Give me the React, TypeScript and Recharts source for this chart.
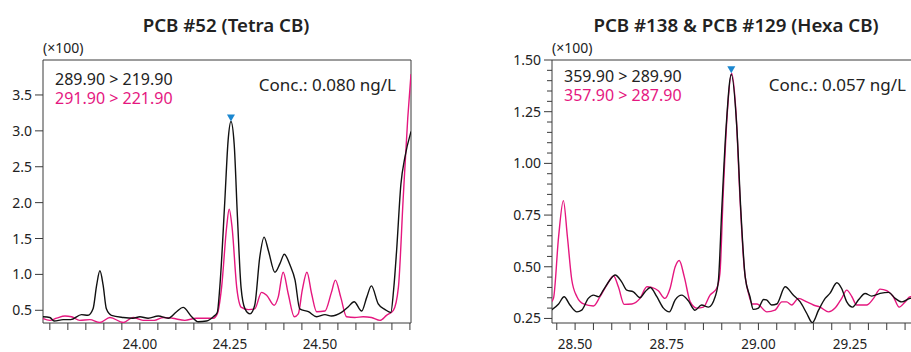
import React from "react";
import { LineChart, Line, XAxis, YAxis, ReferenceArea, ReferenceDot } from "recharts";

const FONT = '"Noto Sans", "Open Sans", sans-serif';
const INK = "#222";
const FRAME = "#3a3a3a";
const PINK = "#e5177f";
const BLUE = "#1b87d0";

type Pt = [number, number];

// PCB #52 (Tetra CB): 289.90 > 219.90
const tetraQuant: Pt[] = [
  [23.729, 0.41], [23.75, 0.4], [23.762, 0.35], [23.787, 0.37], [23.808, 0.37], [23.838, 0.44],
  [23.856, 0.43], [23.87, 0.52], [23.88, 0.85], [23.889, 1.05], [23.898, 0.85], [23.907, 0.52],
  [23.921, 0.43], [23.954, 0.4], [23.981, 0.39], [24.0, 0.41], [24.023, 0.39], [24.051, 0.42],
  [24.079, 0.39], [24.102, 0.48], [24.12, 0.54], [24.144, 0.41], [24.162, 0.34], [24.185, 0.35],
  [24.204, 0.41], [24.215, 0.47], [24.222, 0.82], [24.236, 2.03], [24.245, 2.86], [24.253, 3.13],
  [24.262, 2.81], [24.271, 1.8], [24.281, 0.82], [24.292, 0.52], [24.306, 0.45], [24.319, 0.57],
  [24.333, 1.24], [24.345, 1.52], [24.357, 1.33], [24.375, 1.03], [24.389, 1.15], [24.401, 1.28],
  [24.417, 1.13], [24.431, 0.92], [24.444, 0.52], [24.468, 0.48], [24.491, 0.41], [24.514, 0.44],
  [24.532, 0.42], [24.56, 0.47], [24.579, 0.55], [24.595, 0.62], [24.616, 0.49], [24.63, 0.68],
  [24.643, 0.84], [24.662, 0.59], [24.681, 0.51], [24.697, 0.47], [24.705, 0.8], [24.713, 1.33],
  [24.725, 2.26], [24.736, 2.63], [24.753, 2.99],
];
// 291.90 > 221.90
const tetraQual: Pt[] = [
  [23.729, 0.39], [23.75, 0.36], [23.769, 0.39], [23.792, 0.42], [23.81, 0.41], [23.833, 0.36],
  [23.861, 0.37], [23.889, 0.33], [23.917, 0.4], [23.954, 0.33], [23.981, 0.4], [24.009, 0.36],
  [24.04, 0.36], [24.065, 0.4], [24.09, 0.39], [24.125, 0.36], [24.157, 0.39], [24.204, 0.39],
  [24.215, 0.45], [24.227, 0.82], [24.241, 1.66], [24.248, 1.91], [24.256, 1.66], [24.269, 0.82],
  [24.282, 0.54], [24.301, 0.51], [24.319, 0.52], [24.338, 0.75], [24.352, 0.71], [24.373, 0.57],
  [24.384, 0.68], [24.398, 1.03], [24.412, 0.73], [24.429, 0.41], [24.44, 0.45], [24.451, 0.78],
  [24.464, 1.03], [24.477, 0.73], [24.491, 0.48], [24.514, 0.49], [24.532, 0.75], [24.543, 0.92],
  [24.558, 0.68], [24.574, 0.41], [24.597, 0.4], [24.62, 0.41], [24.643, 0.4], [24.667, 0.36],
  [24.685, 0.43], [24.704, 0.5], [24.718, 0.82], [24.731, 2.03], [24.744, 3.18], [24.753, 3.79],
];
const tetraPeak: Pt = [24.253, 3.13];
const tetraXDomain: Pt = [23.731, 24.753];
const tetraYDomain: Pt = [0.323, 3.987];
const tetraXTicks = [
  23.75, 23.8, 23.85, 23.9, 23.95, 24.0, 24.05, 24.1, 24.15, 24.2, 24.25,
  24.3, 24.35, 24.4, 24.45, 24.5, 24.55, 24.6, 24.65, 24.7, 24.75,
];
const tetraXLabels = [24.0, 24.25, 24.5];
const tetraYTicks = [0.5, 1.0, 1.5, 2.0, 2.5, 3.0, 3.5];

// PCB #138 & PCB #129 (Hexa CB): 359.90 > 289.90
const hexaQuant: Pt[] = [
  [28.435, 0.29], [28.455, 0.32], [28.47, 0.355], [28.486, 0.315], [28.505, 0.282], [28.518, 0.29],
  [28.536, 0.347], [28.55, 0.363], [28.564, 0.355], [28.577, 0.387], [28.595, 0.436], [28.609, 0.46],
  [28.627, 0.427], [28.641, 0.387], [28.659, 0.379], [28.677, 0.35], [28.691, 0.379], [28.705, 0.4],
  [28.723, 0.355], [28.741, 0.3], [28.757, 0.282], [28.773, 0.34], [28.791, 0.363], [28.809, 0.335],
  [28.827, 0.29], [28.845, 0.315], [28.864, 0.305], [28.882, 0.355], [28.891, 0.436], [28.9, 0.774],
  [28.912, 1.177], [28.926, 1.43], [28.941, 1.177], [28.952, 0.774], [28.964, 0.45], [28.977, 0.355],
  [28.986, 0.294], [29.0, 0.3], [29.014, 0.342], [29.022, 0.34], [29.036, 0.315], [29.05, 0.32],
  [29.073, 0.403], [29.095, 0.363], [29.114, 0.33], [29.132, 0.274], [29.147, 0.23], [29.164, 0.29],
  [29.182, 0.347], [29.195, 0.371], [29.214, 0.423], [29.227, 0.395], [29.241, 0.33], [29.257, 0.305],
  [29.273, 0.34], [29.291, 0.371], [29.309, 0.358], [29.332, 0.371], [29.355, 0.376], [29.373, 0.347],
  [29.391, 0.33], [29.414, 0.347], [29.44, 0.35],
];
// 357.90 > 287.90
const hexaQual: Pt[] = [
  [28.435, 0.33], [28.441, 0.347], [28.455, 0.645], [28.468, 0.82], [28.479, 0.645], [28.491, 0.436],
  [28.505, 0.355], [28.523, 0.32], [28.55, 0.31], [28.568, 0.355], [28.586, 0.41], [28.605, 0.455],
  [28.618, 0.403], [28.634, 0.318], [28.655, 0.32], [28.677, 0.347], [28.696, 0.403], [28.709, 0.4],
  [28.727, 0.384], [28.745, 0.347], [28.759, 0.395], [28.773, 0.5], [28.784, 0.53], [28.798, 0.45],
  [28.814, 0.33], [28.832, 0.3], [28.85, 0.305], [28.868, 0.363], [28.886, 0.395], [28.895, 0.468],
  [28.904, 0.855], [28.915, 1.242], [28.927, 1.436], [28.939, 1.242], [28.95, 0.823], [28.961, 0.5],
  [28.973, 0.371], [28.983, 0.32], [28.996, 0.32], [29.023, 0.282], [29.045, 0.29], [29.064, 0.33],
  [29.077, 0.33], [29.091, 0.315], [29.109, 0.347], [29.132, 0.33], [29.15, 0.315], [29.168, 0.305],
  [29.191, 0.282], [29.209, 0.3], [29.227, 0.347], [29.241, 0.387], [29.255, 0.355], [29.268, 0.315],
  [29.295, 0.315], [29.314, 0.347], [29.332, 0.392], [29.35, 0.384], [29.368, 0.355], [29.384, 0.305],
  [29.4, 0.33], [29.414, 0.355], [29.44, 0.35],
];
const hexaPeak: Pt = [28.926, 1.436];
const hexaXDomain: Pt = [28.437, 29.468];
const hexaYDomain: Pt = [0.228, 1.5];
const hexaXTicks = [
  28.45, 28.5, 28.55, 28.6, 28.65, 28.7, 28.75, 28.8, 28.85, 28.9, 28.95,
  29.0, 29.05, 29.1, 29.15, 29.2, 29.25, 29.3, 29.35, 29.4, 29.45,
];
const hexaXLabels = [28.5, 28.75, 29.0, 29.25];
const hexaYTicks = [
  0.25, 0.3, 0.35, 0.4, 0.45, 0.5, 0.55, 0.6, 0.65, 0.7, 0.75, 0.8, 0.85, 0.9, 0.95,
  1.0, 1.05, 1.1, 1.15, 1.2, 1.25, 1.3, 1.35, 1.4, 1.45, 1.5,
];
const hexaYLabels = [0.25, 0.5, 0.75, 1.0, 1.25, 1.5];

const toRows = (pts: Pt[]) => pts.map(([t, v]) => ({ t, v }));
const isIn = (list: number[], v: number) => list.some((l) => Math.abs(l - v) < 1e-6);

function XTick({ x, y, payload, labels }: any) {
  const v = payload.value as number;
  return (
    <g>
      <line x1={x} x2={x} y1={y} y2={y + 7} stroke={FRAME} />
      {isIn(labels, v) && (
        <text x={x} y={y + 26} textAnchor="middle" fill={INK} fontSize={13.5} fontFamily={FONT}>
          {v.toFixed(2)}
        </text>
      )}
    </g>
  );
}

function YTick({ x, y, payload, labels, digits }: any) {
  const v = payload.value as number;
  const major = isIn(labels, v);
  return (
    <g>
      <line x1={x - (major ? 8 : 5)} x2={x} y1={y} y2={y} stroke={FRAME} />
      {major && (
        <text x={x - 11} y={y + 5} textAnchor="end" fill={INK} fontSize={14} fontFamily={FONT}>
          {v.toFixed(digits)}
        </text>
      )}
    </g>
  );
}

function PeakMark({ cx, cy }: any) {
  return <path d={`M${cx - 4},${cy - 7} L${cx + 4},${cy - 7} L${cx},${cy} Z`} fill={BLUE} />;
}

interface PanelProps {
  left: number;
  width: number;
  axisWidth: number;
  rightMargin: number;
  quant: Pt[];
  qual: Pt[];
  peak: Pt;
  xDomain: Pt;
  yDomain: Pt;
  xTicks: number[];
  xLabels: number[];
  yTicks: number[];
  yLabels: number[];
  digits: number;
}

function Panel(p: PanelProps) {
  return (
    <div style={{ position: "absolute", left: p.left, top: 0 }}>
      <LineChart width={p.width} height={352} margin={{ top: 60, right: p.rightMargin, bottom: 0, left: 0 }}>
        <XAxis
          type="number"
          dataKey="t"
          domain={p.xDomain}
          allowDataOverflow
          ticks={p.xTicks}
          interval={0}
          height={29}
          axisLine={false}
          tickLine={false}
          tickSize={0}
          tickMargin={0}
          tick={(tp: any) => <XTick {...tp} labels={p.xLabels} />}
        />
        <YAxis
          type="number"
          dataKey="v"
          domain={p.yDomain}
          allowDataOverflow
          ticks={p.yTicks}
          interval={0}
          width={p.axisWidth}
          axisLine={false}
          tickLine={false}
          tickSize={0}
          tickMargin={0}
          tick={(tp: any) => <YTick {...tp} labels={p.yLabels} digits={p.digits} />}
        />
        <ReferenceArea
          x1={p.xDomain[0]}
          x2={p.xDomain[1]}
          y1={p.yDomain[0]}
          y2={p.yDomain[1]}
          fill="none"
          stroke={FRAME}
          strokeWidth={1}
          ifOverflow="visible"
        />
        <Line
          data={toRows(p.qual)}
          dataKey="v"
          type="monotone"
          stroke={PINK}
          strokeWidth={1.4}
          dot={false}
          isAnimationActive={false}
        />
        <Line
          data={toRows(p.quant)}
          dataKey="v"
          type="monotone"
          stroke="#111"
          strokeWidth={1.4}
          dot={false}
          isAnimationActive={false}
        />
        <ReferenceDot x={p.peak[0]} y={p.peak[1]} r={4} shape={PeakMark} ifOverflow="visible" />
      </LineChart>
    </div>
  );
}

const label = (x: number, y: number, extra: React.CSSProperties = {}): React.CSSProperties => ({
  position: "absolute",
  left: x,
  top: y,
  transform: "translateY(-50%)",
  whiteSpace: "nowrap",
  fontFamily: FONT,
  fontSize: 16,
  lineHeight: "16px",
  color: INK,
  ...extra,
});

export default function App() {
  return (
    <div
      style={{
        position: "absolute",
        left: 0,
        top: 0,
        width: 911,
        height: 352,
        overflow: "hidden",
        background: "#fff",
      }}
    >
      <Panel
        left={0}
        width={430}
        axisWidth={43}
        rightMargin={19}
        quant={tetraQuant}
        qual={tetraQual}
        peak={tetraPeak}
        xDomain={tetraXDomain}
        yDomain={tetraYDomain}
        xTicks={tetraXTicks}
        xLabels={tetraXLabels}
        yTicks={tetraYTicks}
        yLabels={tetraYTicks}
        digits={1}
      />
      <Panel
        left={492}
        width={438}
        axisWidth={60}
        rightMargin={0}
        quant={hexaQuant}
        qual={hexaQual}
        peak={hexaPeak}
        xDomain={hexaXDomain}
        yDomain={hexaYDomain}
        xTicks={hexaXTicks}
        xLabels={hexaXLabels}
        yTicks={hexaYTicks}
        yLabels={hexaYLabels}
        digits={2}
      />

      <div style={label(226, 24, { transform: "translate(-50%, -50%)", fontSize: 18.7, lineHeight: "19px", fontWeight: 600 })}>
        PCB #52 (Tetra CB)
      </div>
      <div style={label(43, 48, { fontSize: 14, lineHeight: "14px" })}>(×100)</div>
      <div style={label(55, 79)}>289.90 &gt; 219.90</div>
      <div style={label(55, 98, { color: PINK })}>291.90 &gt; 221.90</div>
      <div style={label(396, 84, { transform: "translate(-100%, -50%)", fontSize: 17, lineHeight: "17px" })}>
        Conc.: 0.080 ng/L
      </div>

      <div style={label(736, 24, { transform: "translate(-50%, -50%)", fontSize: 18.7, lineHeight: "19px", fontWeight: 600 })}>
        PCB #138 &amp; PCB #129 (Hexa CB)
      </div>
      <div style={label(552, 48, { fontSize: 14, lineHeight: "14px" })}>(×100)</div>
      <div style={label(564, 76)}>359.90 &gt; 289.90</div>
      <div style={label(564, 95, { color: PINK })}>357.90 &gt; 287.90</div>
      <div style={label(906, 84, { transform: "translate(-100%, -50%)", fontSize: 17, lineHeight: "17px" })}>
        Conc.: 0.057 ng/L
      </div>
    </div>
  );
}
